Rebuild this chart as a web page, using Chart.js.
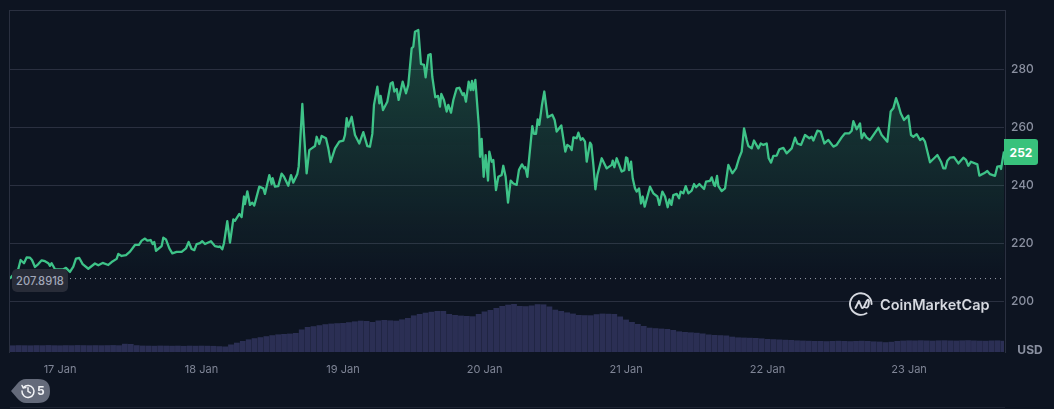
<!DOCTYPE html>
<html>
<head>
<meta charset="utf-8">
<script src="https://cdn.jsdelivr.net/npm/chart.js@4"></script>
<style>
html,body{margin:0;padding:0;background:#0d1421;width:1054px;height:409px;overflow:hidden;font-family:Inter,sans-serif}
#frame{position:absolute;left:9px;top:10px;width:995px;height:342px;border:1px solid #2a3040;border-bottom:none}
#floor{position:absolute;left:10px;top:407px;width:995px;height:1px;background:#1d2331}
#wrap{position:absolute;left:0;top:0;width:1054px;height:409px}
.tag{position:absolute;display:flex;align-items:center;justify-content:center;box-sizing:border-box}
#base{left:12px;top:269px;width:56px;height:23px;background:#282c38;border-radius:5px;color:#a1a7b8;font-size:11.2px;font-weight:500}
#last{left:1004px;top:139px;width:34px;height:26px;background:#38c27c;border-radius:0 3px 3px 0;color:#fff;font-size:12px;font-weight:700}
#usd{left:1017px;top:342px;width:26px;height:15px;color:#8a90a0;font-size:12px;font-weight:700}
#hist{position:absolute;left:11px;top:379px;width:40px;height:24px}
#hist span{position:absolute;left:26px;top:4px;color:#f1f2f5;font-size:12px;font-weight:700}
#logo{position:absolute;left:849px;top:292px;width:24px;height:24px}
#brand{position:absolute;left:880px;top:295px;color:#d6d9e0;font-size:14.5px;font-weight:600;line-height:20px;white-space:nowrap}
</style>
</head>
<body>
<div id="frame"></div>
<div id="floor"></div>
<div id="wrap"><canvas id="c" width="1054" height="409"></canvas></div>
<div class="tag" id="base">207.8918</div>
<div class="tag" id="last">252</div>
<div class="tag" id="usd">USD</div>
<div id="hist">
<svg width="40" height="24" viewBox="0 0 40 24"><path d="M0 12 L6 5 Q10 0 15 0 H27 Q39 0 39 12 Q39 24 27 24 H15 Q10 24 6 19 Z" fill="#646a7a"/><g fill="none" stroke="#f1f2f5" stroke-width="1.5" stroke-linecap="round"><path d="M12.5 8.5 A6 6 0 1 1 11 12"/><path d="M17 8.8 V12.3 L19.5 13.8"/><path d="M11 6.5 L12.3 9 L14.8 8.6"/></g></svg>
<span>5</span>
</div>
<svg id="logo" viewBox="0 0 24 24"><g fill="none" stroke="#d6d9e0" stroke-width="1.9" stroke-linecap="round" stroke-linejoin="round"><path d="M22.6 12 A10.8 10.8 0 1 0 17.5 21.2"/><path d="M6.5 16 L10 9 L12.5 15 Q13.5 17 14.8 15 L18 8.5 Q19.5 6.5 20 9 L19.5 13 Q18.8 17 15.5 15"/></g></svg>
<div id="brand">CoinMarketCap</div>
<script>
const dayHours = [0, 24, 48, 72, 96, 120, 144];
const dayLabels = ['17 Jan', '18 Jan', '19 Jan', '20 Jan', '21 Jan', '22 Jan', '23 Jan'];
const priceTicks = [200, 220, 240, 260, 280];
const baselinePrice = 207.8918;
const priceHours = [-8.48,-7.07,-6.68,-6.11,-5.66,-5.09,-4.75,-4.24,-3.68,-3.11,-2.55,-1.98,-1.70,-1.42,-0.85,0.56,1.01,1.69,2.26,2.71,3.27,3.84,4.80,5.93,6.50,7.23,8.19,8.76,9.61,9.89,10.45,11.19,11.87,12.71,13.39,13.85,14.41,14.81,15.37,15.71,15.99,16.28,17.24,17.52,17.97,18.54,19.05,19.78,20.63,21.36,21.82,22.32,22.78,23.17,23.74,24.13,24.59,25.60,26.28,26.85,27.13,27.53,27.81,28.37,28.83,29.39,29.67,30.41,30.80,31.20,31.37,31.77,32.22,32.61,32.95,33.80,34.48,34.76,35.50,35.89,36.06,36.46,37.02,37.59,37.99,38.72,39.18,39.57,40.25,40.48,41.10,41.38,41.83,42.28,42.68,43.25,43.53,43.98,44.38,45.11,45.51,45.90,46.64,47.37,48.05,48.33,48.62,48.90,49.46,50.03,50.76,51.44,52.12,52.57,52.97,53.25,53.82,54.16,54.38,54.78,55.51,56.08,56.42,56.70,57.10,57.43,58.11,58.68,59.07,59.64,59.92,60.20,60.77,61.22,61.73,62.01,62.47,62.86,63.14,63.65,64.11,64.44,64.67,65.12,65.58,65.86,66.31,66.71,67.27,67.72,68.29,68.51,68.85,69.31,69.65,69.87,70.10,70.44,71.06,71.23,71.51,71.85,72.19,72.59,72.81,73.21,73.49,73.94,74.34,74.90,75.18,75.58,75.98,76.43,76.88,77.45,77.84,78.35,78.75,78.92,79.26,80.10,80.39,80.73,81.01,81.29,81.74,82.14,82.70,83.49,83.89,84.23,85.02,85.70,86.04,86.50,86.78,87.07,87.63,87.91,88.31,88.65,89.04,89.33,89.89,90.12,90.46,90.80,91.14,91.87,92.72,93.57,93.74,94.02,94.41,95.26,95.71,96.00,96.22,96.51,96.85,97.13,97.52,97.81,98.20,98.54,98.82,99.16,100.07,100.63,101.31,101.65,102.16,102.61,103.06,103.35,103.69,104.02,104.59,104.99,105.27,105.72,106.12,106.57,107.13,107.53,107.87,108.43,109.23,109.56,110.24,110.53,110.92,111.09,111.43,111.66,112.22,112.79,113.35,114.03,114.65,115.16,115.61,116.01,116.46,116.74,117.31,117.70,118.44,118.84,119.29,119.85,120.19,120.59,120.98,121.55,122.00,122.68,123.24,124.09,124.66,125.05,125.68,126.35,127.09,127.48,127.77,128.45,129.01,129.63,130.31,131.16,131.72,132.57,133.14,133.87,134.27,134.55,135.12,135.68,135.96,136.36,136.81,137.38,137.94,138.79,139.35,139.75,140.32,140.88,141.33,141.79,142.18,142.58,143.14,143.88,144.33,144.72,145.29,145.86,146.31,146.70,147.55,148.80,149.42,149.81,150.15,150.49,150.94,151.62,152.36,153.20,153.66,154.05,154.50,155.58,155.92,156.71,157.27,157.73,158.57,158.97,159.42,159.59,160.10];
const priceValues = [207.9,211.2,214.3,213.2,215.2,215.1,214.3,211.9,212.9,214.2,213.9,213.2,212.3,213.2,211.1,211.1,211.6,210.2,212.0,214.8,215.0,212.9,211.3,213.1,212.5,213.3,212.6,213.6,214.7,216.4,215.7,216.0,217.2,219.5,219.5,221.0,221.7,221.0,221.2,219.8,220.5,217.5,219.1,222.0,221.4,218.3,216.6,217.1,217.1,218.3,220.5,218.1,217.7,219.8,220.1,220.8,219.8,220.8,219.1,218.8,219.0,218.0,220.1,227.7,220.3,228.3,227.8,230.2,229.1,236.2,233.6,238.0,233.3,234.1,233.1,239.6,239.0,237.1,243.6,240.5,242.5,239.6,239.8,244.1,243.0,239.9,243.6,241.0,244.0,246.5,268.1,258.0,244.2,252.2,252.8,253.6,256.8,254.3,257.1,256.3,252.8,248.1,252.8,255.1,255.5,257.4,263.2,260.3,263.7,257.4,254.5,258.4,253.6,253.4,257.8,267.8,274.1,268.3,270.9,266.0,268.9,275.2,275.6,272.4,273.3,269.5,275.8,271.8,274.7,287.3,287.9,293.0,293.6,281.9,281.6,277.3,285.0,285.3,277.5,270.4,270.9,267.2,271.6,269.5,265.5,267.8,265.1,269.5,273.5,273.7,271.2,271.8,268.9,275.8,272.9,276.1,272.9,276.4,259.7,249.9,256.1,243.0,250.5,241.7,251.7,248.2,248.8,238.4,243.0,243.6,246.8,243.0,234.1,241.7,240.7,240.2,245.4,247.3,245.9,246.3,243.0,260.5,257.8,257.8,262.8,260.9,267.8,272.4,263.5,264.4,262.6,258.6,260.7,251.7,254.0,253.4,252.2,256.6,256.3,258.2,255.7,256.3,255.1,248.2,254.8,254.0,247.1,238.7,243.6,249.4,245.9,247.1,248.6,246.3,249.4,244.8,245.3,249.7,249.4,245.3,248.2,242.5,239.0,237.9,239.0,233.8,236.2,232.7,239.6,237.3,236.2,233.3,237.9,236.2,232.5,235.2,233.3,236.7,237.1,235.6,237.9,237.3,239.8,237.3,238.2,240.5,239.4,240.5,238.8,241.3,241.6,242.8,240.2,239.8,243.3,239.8,238.1,239.0,247.1,244.2,245.9,249.4,251.7,259.7,255.7,253.6,252.8,255.5,252.8,254.5,254.0,254.5,249.4,247.9,250.2,250.3,252.5,253.0,251.1,252.8,256.5,254.5,254.0,257.4,256.3,256.8,255.5,258.9,258.6,254.5,255.7,253.4,254.0,256.6,258.0,258.0,258.9,262.2,259.4,261.4,256.3,258.0,256.5,255.7,257.4,259.9,257.4,256.5,255.1,265.5,266.6,270.1,267.8,264.9,262.6,264.1,257.4,256.8,257.7,255.7,256.3,255.1,248.0,250.5,248.2,245.9,245.9,248.5,249.6,249.8,247.6,249.6,248.8,246.8,248.2,247.3,243.4,244.2,245.0,243.9,243.3,246.5,246.7,245.7,251.7];
const volumeStartHour = -8;
const volumeValues = [6.6,6.8,6.7,6.6,6.8,6.7,6.9,6.7,6.6,6.8,6.7,6.9,6.8,6.7,6.8,6.7,6.8,6.9,6.7,8.2,8.0,6.8,6.4,6.3,6.2,6.4,6.3,6.2,6.3,6.1,6.3,6.2,6.3,6.2,6.1,5.8,5.5,7.5,9.3,11,12.6,13.8,14.8,15.8,16.8,17.6,18,18.4,19,22.5,25,25.8,26.8,27.8,28.4,28.8,29,29.8,30.6,31.3,31,30,31.5,32,31.6,31.3,32.6,34,36.6,38,39.3,40.2,41,41,38,37,36.4,36,35.7,38,40.5,42,44,46,47.3,48,46,45.8,46.5,47.8,47.6,45.5,42.3,41,39.6,38.4,37,36.8,36.7,37.8,38.4,38.2,38,35.5,32.4,30,28,26,24.3,23.8,23.4,23,22,20.6,20,19.6,19.2,18.5,17.5,17,16.8,16.5,15.3,14.6,14.4,14.2,14,13.6,13,12.8,12.5,12.2,12,11.6,11.4,11.2,11,11,10.8,11,11.2,11,10.8,11,11.2,11,10.6,10.4,9.8,10.2,11,11.4,11.6,11.5,11.7,11.5,11.3,11.6,11.7,11.5,11.4,11.6,11.8,11.5,11.3,11.2,11.5,11.6,11.2];

const pricePoints = priceHours.map((h, i) => ({x: h, y: priceValues[i]}));
const volumePoints = volumeValues.map((v, i) => ({x: volumeStartHour + i, y: v}));
const xMin = priceHours[0], xMax = priceHours[priceHours.length - 1];

function fillGradient(ctx) {
  const chart = ctx.chart;
  if (!chart.chartArea) return 'rgba(0,0,0,0)';
  const y = chart.scales.y;
  const g = chart.ctx.createLinearGradient(0, y.getPixelForValue(300), 0, y.getPixelForValue(baselinePrice));
  g.addColorStop(0, 'rgba(59,191,131,0.30)');
  g.addColorStop(1, 'rgba(59,191,131,0)');
  return g;
}

new Chart(document.getElementById('c'), {
  type: 'line',
  data: {
    datasets: [
      {data: pricePoints, yAxisID: 'y', order: 1, borderColor: '#3ec388', borderWidth: 2.3, pointRadius: 0, tension: 0, borderJoinStyle: 'round', fill: {value: baselinePrice}, backgroundColor: fillGradient},
      {data: [{x: xMin, y: baselinePrice}, {x: xMax, y: baselinePrice}], yAxisID: 'y', order: 2, borderColor: '#9ca2b0', borderWidth: 1, borderDash: [1, 4], pointRadius: 0, fill: false},
      {type: 'bar', data: volumePoints, yAxisID: 'yv', order: 3, backgroundColor: '#2b2f54', barPercentage: 0.98, categoryPercentage: 1}
    ]
  },
  options: {
    responsive: false,
    animation: false,
    parsing: true,
    layout: {padding: {left: 10, top: 11, right: 0, bottom: 0}},
    plugins: {legend: {display: false}, tooltip: {enabled: false}},
    scales: {
      x: {
        type: 'linear', min: xMin, max: xMax, offset: false,
        grid: {display: false}, border: {display: false},
        afterBuildTicks: s => { s.ticks = dayHours.map(v => ({value: v})); },
        afterFit: s => { s.height = 57; s.paddingLeft = 0; s.paddingRight = 0; },
        ticks: {
          autoSkip: false, maxRotation: 0, padding: 3, color: '#7f8596',
          font: {family: 'Inter', size: 11},
          callback: (v, i) => dayLabels[i]
        }
      },
      y: {
        position: 'right', min: 182.59, max: 300.17,
        grid: {color: '#2a3040', drawTicks: false}, border: {display: false},
        afterBuildTicks: s => { s.ticks = priceTicks.map(v => ({value: v})); },
        afterFit: s => { s.width = 50; s.paddingTop = 0; s.paddingBottom = 0; },
        ticks: {padding: 7, color: '#8a90a0', font: {family: 'Inter', size: 12, weight: '500'}, callback: v => String(v)}
      },
      yv: {display: false, min: 0, max: 341}
    }
  }
});
</script>
</body>
</html>
